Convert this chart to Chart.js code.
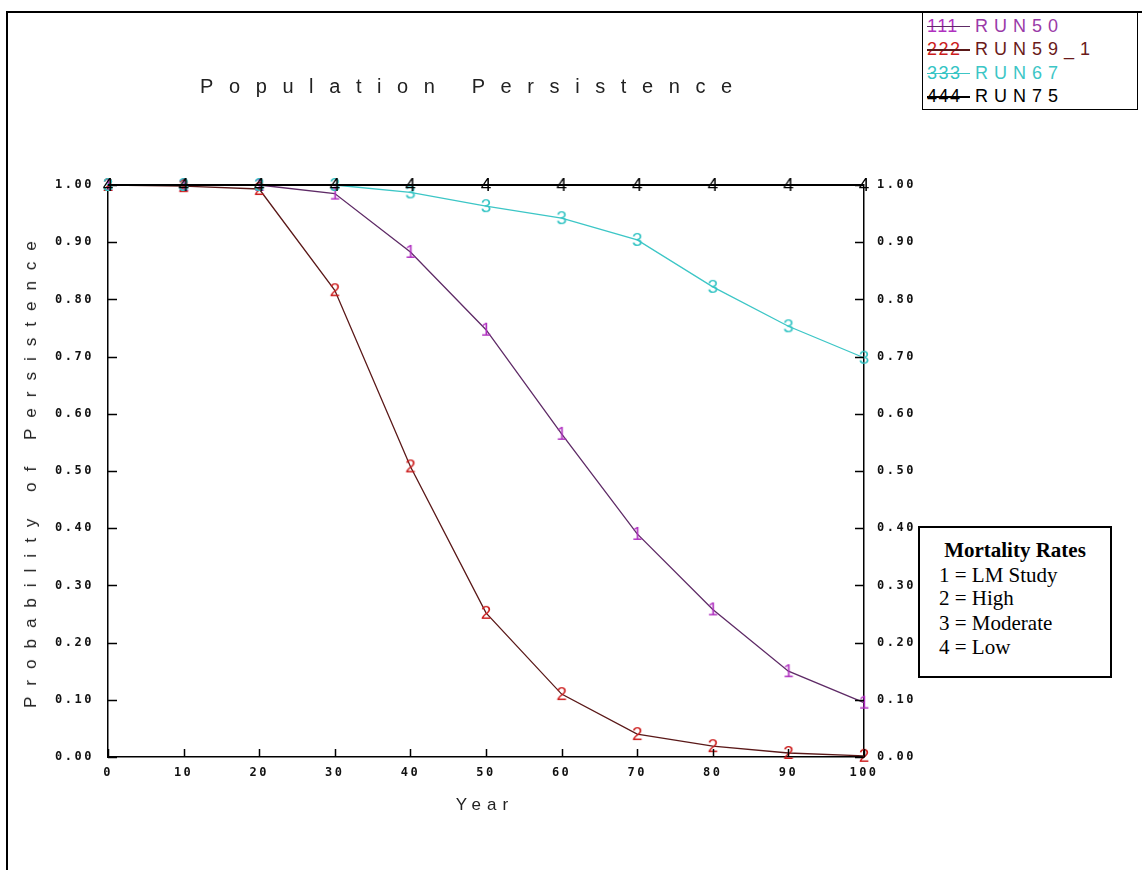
<!DOCTYPE html>
<html>
<head>
<meta charset="utf-8">
<script src="https://cdn.jsdelivr.net/npm/chart.js@4.4.1/dist/chart.umd.min.js"></script>
<style>
  html, body { margin: 0; padding: 0; background: #fff; }
  body { width: 1142px; height: 870px; position: relative; overflow: hidden; font-family: "Liberation Sans", Arial, sans-serif; }
  #frame { position: absolute; left: 6px; top: 11px; width: 1200px; height: 900px; border-top: 2px solid #000; border-left: 2px solid #000; }
  #chart { position: absolute; left: 0; top: 0; }
  #title { position: absolute; left: 200px; top: 75px; white-space: nowrap; font-size: 20px; letter-spacing: 15.6px; color: #222; }
  #ytitle { position: absolute; left: 31px; top: 469px; transform: translate(-50%, -50%) rotate(-90deg); white-space: nowrap; font-size: 17px; letter-spacing: 11px; color: #222; }
  #xtitle { position: absolute; left: 485px; top: 805px; transform: translate(-50%, -50%); font-size: 17px; letter-spacing: 6px; color: #222; }
  #legend { position: absolute; left: 922px; top: 12px; width: 214px; height: 96px; border: 1.5px solid #000; background: #fff; }
  .row { position: absolute; left: 4px; height: 24px; line-height: 24px; font-size: 18px; letter-spacing: 6px; white-space: nowrap; }
  .sample { display: inline-block; position: relative; width: 44px; letter-spacing: 1.5px; font-size: 18px; }
  .sample i { position: absolute; left: 0; top: 12px; width: 43px; height: 1.5px; }
  .lab { position: absolute; left: 48px; top: 0; }
  #mort { position: absolute; left: 918px; top: 526px; width: 190px; height: 148px; border: 2px solid #000; background: #fff; font-family: "Liberation Serif", "Times New Roman", serif; font-size: 21px; line-height: 24px; color: #000; }
  #mort .h { position: absolute; left: 0; width: 100%; top: 10px; text-align: center; font-weight: bold; }
  #mort .l { position: absolute; left: 19px; }
</style>
</head>
<body>
<div id="frame"></div>
<canvas id="chart" width="1142" height="870"></canvas>
<div id="title">Population Persistence</div>
<div id="ytitle">Probability of Persistence</div>
<div id="xtitle">Year</div>
<div id="legend"></div>
<div id="mort">
  <div class="h">Mortality Rates</div>
  <div class="l" style="top:35px">1 = LM Study</div>
  <div class="l" style="top:58px">2 = High</div>
  <div class="l" style="top:83px">3 = Moderate</div>
  <div class="l" style="top:107px">4 = Low</div>
</div>
<script>
// ---- data ----
const years = [0, 10, 20, 30, 40, 50, 60, 70, 80, 90, 100];
const run50 = [1.0, 1.0, 1.0, 0.985, 0.883, 0.747, 0.565, 0.390, 0.258, 0.150, 0.095];
const run59_1 = [1.0, 0.998, 0.993, 0.816, 0.508, 0.252, 0.110, 0.040, 0.019, 0.007, 0.002];
const run67 = [1.0, 1.0, 1.0, 1.0, 0.987, 0.963, 0.942, 0.904, 0.822, 0.753, 0.698];
const run75 = [1.0, 1.0, 1.0, 1.0, 1.0, 1.0, 1.0, 1.0, 1.0, 1.0, 1.0];
const seriesNames = ['RUN50', 'RUN59_1', 'RUN67', 'RUN75'];
const markerDigits = ['1', '2', '3', '4'];
const yTicks = [0, 0.1, 0.2, 0.3, 0.4, 0.5, 0.6, 0.7, 0.8, 0.9, 1.0];
const xTicks = [0, 10, 20, 30, 40, 50, 60, 70, 80, 90, 100];

// ---- styles ----
const lineColors = ['#5e2a66', '#5a1818', '#3cc6c6', '#000000'];
const markColors = ['#b030c0', '#cc1c1c', '#34c4c4', '#000000'];
const textColors = ['#9a3aa8', '#6a1a1a', '#3cc6c6', '#000000'];

function digitCanvas(ch, color) {
  const c = document.createElement('canvas');
  c.width = 16; c.height = 22;
  const g = c.getContext('2d');
  g.fillStyle = color;
  g.font = '19px "Liberation Sans", Arial, sans-serif';
  g.textAlign = 'center';
  g.textBaseline = 'middle';
  g.fillText(ch, 8, 12);
  return c;
}

// legend
const legend = document.getElementById('legend');
seriesNames.forEach((n, i) => {
  const r = document.createElement('div');
  r.className = 'row';
  r.style.top = (0.5 + i * 23.5) + 'px';
  r.innerHTML = '<span class="sample" style="color:' + markColors[i] + '">' + markerDigits[i].repeat(3) +
    '<i style="background:' + lineColors[i] + '"></i></span><span class="lab" style="color:' + textColors[i] + '">' + n + '</span>';
  legend.appendChild(r);
});

const seriesVals = [run50, run59_1, run67, run75];
const datasets = seriesVals.map((vals, i) => ({
  label: seriesNames[i],
  data: years.map((x, k) => ({ x: x, y: vals[k] })),
  borderColor: lineColors[i],
  borderWidth: i === 3 ? 2 : 1.3,
  pointStyle: digitCanvas(markerDigits[i], markColors[i]),
  pointRadius: 8,
  tension: 0,
  clip: false,
  order: 3 - i,
  showLine: true,
  fill: false
}));

const tickFont = { family: '"DejaVu Sans Mono", monospace', size: 12, weight: 'bold' };

const spacingPlugin = {
  id: 'spacing',
  beforeDraw(chart) { chart.ctx.letterSpacing = '2.5px'; },
  afterDraw(chart) {
    const ctx = chart.ctx;
    ctx.letterSpacing = '0px';
    const a = chart.chartArea;
    ctx.save();
    ctx.strokeStyle = '#000';
    ctx.lineWidth = 1.5;
    ctx.beginPath();
    const ys = chart.scales.y, y2 = chart.scales.y2, xs = chart.scales.x;
    ys.ticks.forEach(t => {
      const p = Math.round(ys.getPixelForValue(t.value)) + 0.5;
      ctx.moveTo(a.left, p); ctx.lineTo(a.left + 9, p);
    });
    y2.ticks.forEach(t => {
      const p = Math.round(y2.getPixelForValue(t.value)) + 0.5;
      ctx.moveTo(a.right, p); ctx.lineTo(a.right - 9, p);
    });
    xs.ticks.forEach(t => {
      const p = Math.round(xs.getPixelForValue(t.value)) + 0.5;
      ctx.moveTo(p, a.bottom); ctx.lineTo(p, a.bottom - 8);
    });
    ctx.stroke();
    ctx.restore();
  }
};

new Chart(document.getElementById('chart'), {
  type: 'line',
  data: { datasets: datasets },
  options: {
    responsive: false,
    animation: false,
    layout: { padding: { top: 185, left: 0, right: 0, bottom: 0 } },
    plugins: { legend: { display: false }, tooltip: { enabled: false }, title: { display: false } },
    scales: {
      x: {
        type: 'linear', min: 0, max: 100,
        afterBuildTicks: s => { s.ticks = xTicks.map(v => ({ value: v })); },
        afterFit: s => { s.height = 113; },
        grid: { display: true, drawOnChartArea: false, drawTicks: false },
        border: { display: true, color: '#000', width: 1.5 },
        ticks: { font: tickFont, color: '#111', padding: 9, maxRotation: 0, autoSkip: false, callback: v => String(v) }
      },
      y: {
        type: 'linear', position: 'left', min: 0, max: 1,
        afterBuildTicks: s => { s.ticks = yTicks.map(v => ({ value: v })); },
        afterFit: s => { s.width = 108; },
        grid: { display: true, drawOnChartArea: false, drawTicks: false },
        border: { display: true, color: '#000', width: 1.5 },
        ticks: { font: tickFont, color: '#111', padding: 14, autoSkip: false, callback: v => Number(v).toFixed(2) }
      },
      y2: {
        type: 'linear', position: 'right', min: 0, max: 1,
        afterBuildTicks: s => { s.ticks = yTicks.map(v => ({ value: v })); },
        afterFit: s => { s.width = 278; },
        grid: { display: true, drawOnChartArea: false, drawTicks: false },
        border: { display: true, color: '#000', width: 1.5 },
        ticks: { font: tickFont, color: '#111', padding: 13, autoSkip: false, callback: v => Number(v).toFixed(2) }
      }
    }
  },
  plugins: [spacingPlugin]
});
</script>
</body>
</html>
